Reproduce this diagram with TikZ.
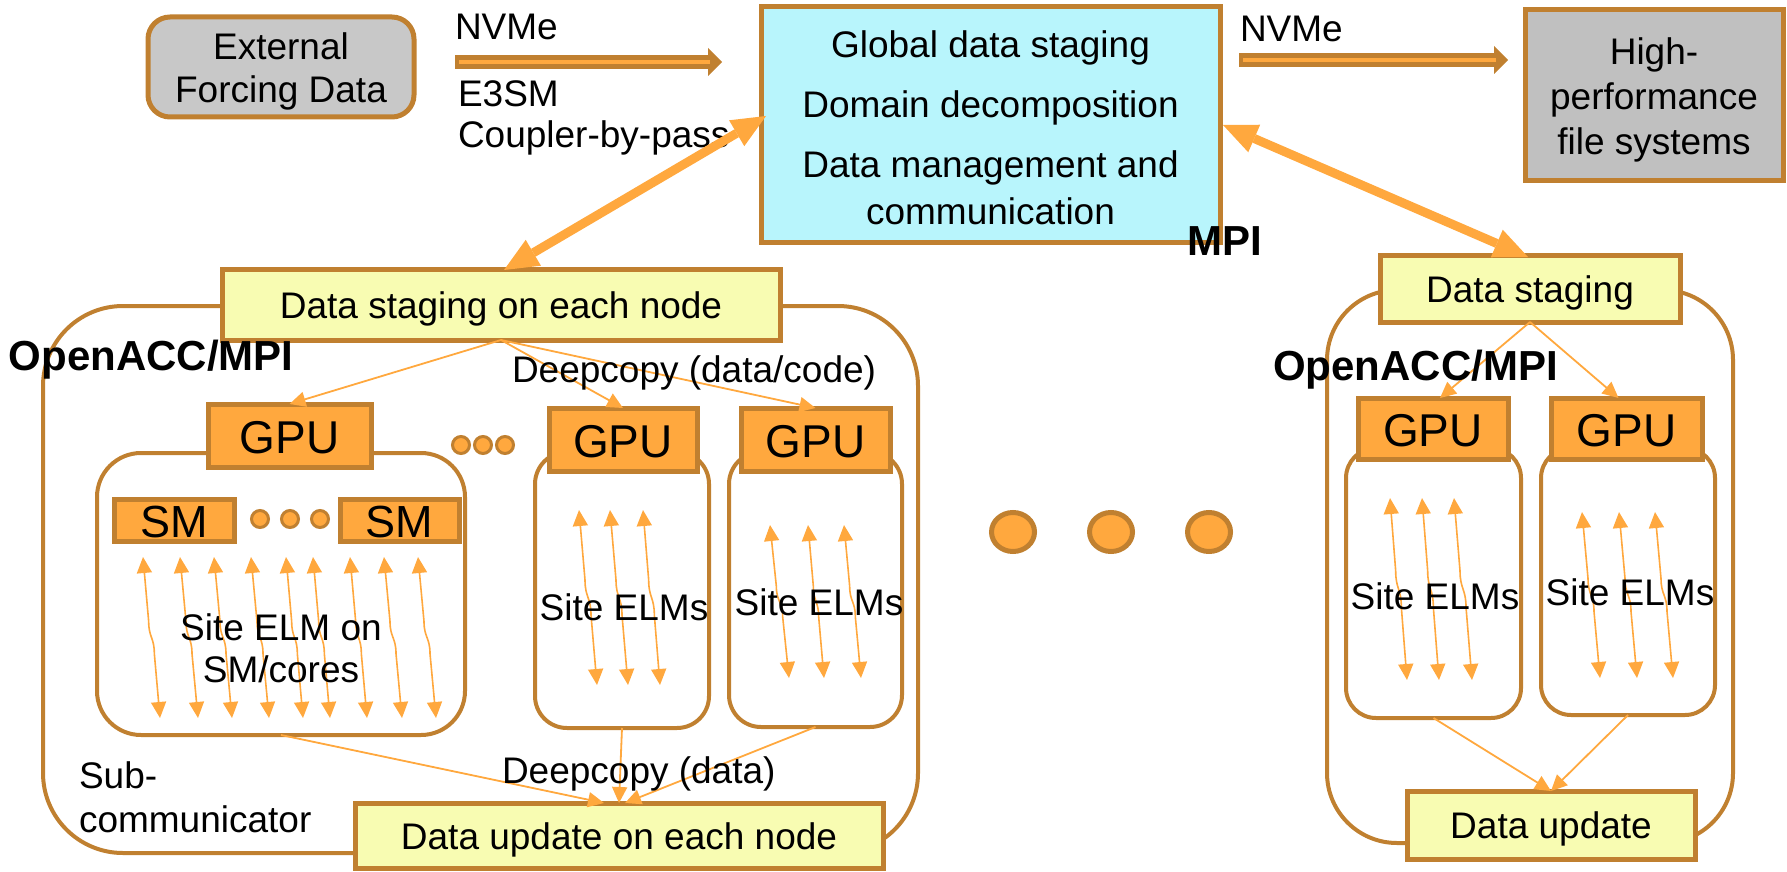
\documentclass[tikz,border=0pt]{standalone}
\usepackage{fontspec}
\setmainfont{Liberation Sans}
\usetikzlibrary{arrows.meta,fit,calc,shapes.geometric}
\definecolor{brn}{RGB}{192,128,48}
\definecolor{org}{RGB}{255,168,62}
\definecolor{ylw}{RGB}{248,252,178}
\definecolor{cyn}{RGB}{184,245,252}
\definecolor{gryA}{RGB}{200,200,200}
\definecolor{gryB}{RGB}{192,192,192}
\newcommand\fmain{\fontsize{18.5}{22}\selectfont}
\newcommand\fgpu{\fontsize{23}{26}\selectfont}
\newcommand\fbigb{\bfseries\fontsize{21}{24}\selectfont}
\newcommand\wavy[4]{%
  \pgfmathsetmacro\wva{#1+(#3-#1)/3}%
  \pgfmathsetmacro\wvb{#1+2*(#3-#1)/3}%
  \pgfmathsetmacro\wvm{(#2+#4)/2}%
  \pgfmathsetmacro\wvp{\wvm-(#4-#2)*0.1}%
  \pgfmathsetmacro\wvq{\wvm+(#4-#2)*0.1}%
  \draw[tab] (#1,#2) -- (\wva,\wvp) .. controls (\wva,\wvm) and (\wvb,\wvm) .. (\wvb,\wvq) -- (#3,#4);}
\begin{document}
\begin{tikzpicture}[x=0.5pt,y=-0.5pt,
  every node/.style={inner sep=0pt, outer sep=0pt},
  bx/.style={draw=brn, line width=2.5pt, inner sep=0pt},
  rr/.style={draw=brn, line width=2pt, inner sep=0pt, rounded corners=#1},
  txt/.style={label={[font=\fmain, align=center, yshift=-2pt]center:#1}},
  thinline/.style={draw=org, line width=0.9pt},
  ta/.style={thinline, -{Triangle[length=8pt,width=7.5pt]}},
  tab/.style={draw=org, line width=0.8pt, {Triangle[length=8pt,width=7.5pt]}-{Triangle[length=8pt,width=7.5pt]}},
  thick2/.style={draw=org, line width=4.5pt, {Triangle[length=17pt,width=15pt,line width=0pt]}-{Triangle[length=17pt,width=15pt,line width=0pt]}},
  nvarrow/.style={draw=brn, line width=7pt, -{Triangle[length=7pt,width=14pt,line width=0pt]}},
  gpu/.style={bx, fill=org, label={[font=\fgpu, yshift=-1pt]center:GPU}},
  smbox/.style={bx, fill=org, label={[font=\fontsize{22.5}{25}\selectfont, yshift=-1pt]center:SM}},
  sdot/.style={circle, draw=brn, fill=org, line width=1.5pt, minimum size=8.5pt},
  bdot/.style={ellipse, draw=brn, fill=org, line width=2.5pt, minimum width=21.5pt, minimum height=19.5pt},
  lbl/.style={font=\fmain, anchor=base west},
  lblc/.style={font=\fmain, anchor=base},
  bold/.style={font=\fbigb, anchor=base west}
]
\useasboundingbox (0,0) rectangle (1787,872);

% ---------- top row ----------
\node[bx, fill=gryA, rounded corners=11pt, fit={(148,17) (414,117)},
  label={[font=\fontsize{18.5}{21.5}\selectfont, align=center, yshift=-2pt]center:External\\Forcing Data}] (ext) {};
\node[bx, fill=cyn, fit={(761,7) (1220,242)},
  label={[font=\fontsize{18.5}{23.5}\selectfont, align=center, yshift=-1.5pt]center:Global data staging\\[6.5pt]Domain decomposition\\[6.5pt]Data management and\\communication}] (ctr) {};
\node[bx, fill=gryB, fit={(1525,10) (1783,180)},
  label={[font=\fontsize{18.5}{22.5}\selectfont, align=center, yshift=-2.5pt]center:High-\\performance\\file systems}] (hpf) {};

\coordinate (nv1s) at (455,62);
\coordinate (nv1e) at (722,62);
\coordinate (nv2s) at (1239,60);
\coordinate (nv2e) at (1508,60);
\draw[nvarrow] (nv1s) -- (nv1e);
\draw[org, line width=2pt] ($(nv1s)+(4,0)$) -- ($(nv1e)+(-12,0)$);
\draw[nvarrow] (nv2s) -- (nv2e);
\draw[org, line width=2pt] ($(nv2s)+(4,0)$) -- ($(nv2e)+(-12,0)$);

\node[lbl] (nvA) at (455,40) {NVMe};
\node[lbl] (e3) at (458,106) {E3SM};
\node[lbl] (cbp) at (458,148) {Coupler-by-pass};
\node[lbl] (nvB) at (1240,42) {NVMe};
\node[bold] (mpi) at (1187,255) {MPI};

% ---------- left compute node ----------
\node[rr=40pt, fit={(43,306) (918,853)}] (nodeL) {};
\node[rr=22pt, fit={(97,453) (465,735)}] (innA) {};
\node[rr=16pt, fit={(535,452) (709,728)}] (innB) {};
\node[rr=16pt, fit={(729,452) (902,727)}] (innC) {};
\node[bx, fill=ylw, fit={(222,269) (780,340)}, txt={Data staging on each node}] (stgL) {};
\node[bx, fill=ylw, fit={(355,803) (883,868)}, txt={Data update on each node}] (updL) {};
\node[gpu, fit={(208,404) (371,467)}] (gpuA) {};
\node[gpu, fit={(549,408) (697,471)}] (gpuB) {};
\node[gpu, fit={(741,408) (890,471)}] (gpuC) {};
\node[smbox, fit={(114,499) (234,541)}] (smA) {};
\node[smbox, fit={(340,499) (459,541)}] (smB) {};
\node[sdot] (g1) at (461,445) {};
\node[sdot] (g2) at (483,445) {};
\node[sdot] (g3) at (505,445) {};
\node[sdot] (s1) at (260,519) {};
\node[sdot] (s2) at (290,519) {};
\node[sdot] (s3) at (320,519) {};

\draw[ta] (stgL.south) -- (gpuA.north);
\draw[ta] (stgL.south) -- (gpuB.north);
\draw[ta] (stgL.south) -- (gpuC.north);
\draw[ta] (innA.south) -- ($(updL.north)+(-15,0)$);
\draw[ta] (innB.south) -- ($(updL.north)+(0,0)$);
\draw[ta] (innC.south) -- ($(updL.north)+(6,0)$);

\foreach \a/\b in {143/160,180/198,214/232,251/269,286/303,313/330,350/367,384/402,418/436}
  {\wavy{\a}{557}{\b}{718}}
\foreach \a/\b in {579/597,610/628,643/660}
  {\wavy{\a}{510}{\b}{685}}
\foreach \a/\b in {770/789,808/824,844/861}
  {\wavy{\a}{525}{\b}{678}}

\node[bold] (accL) at (9,370) {OpenACC/MPI};
\node[lbl] (dcA) at (512,382) {Deepcopy (data/code)};
\node[lbl] (dcB) at (502,783) {Deepcopy (data)};
\node[font=\fmain, align=left, anchor=north west] (subc) at (79,762) {Sub-\\communicator};
\node[font=\fontsize{18.5}{21}\selectfont, align=center] (selA) at (281,648) {Site ELM on\\SM/cores};
\node[lblc] (selB) at (624,620) {Site ELMs};
\node[lblc] (selC) at (819,615) {Site ELMs};

% ---------- ellipsis between nodes ----------
\node[bdot] (d1) at (1013,532) {};
\node[bdot] (d2) at (1111,532) {};
\node[bdot] (d3) at (1209,532) {};

% ---------- right compute node ----------
\node[rr=35pt, fit={(1327,290) (1733,843)}] (nodeR) {};
\node[rr=15pt, fit={(1346,448) (1521,718)}] (innR1) {};
\node[rr=15pt, fit={(1541,448) (1715,715)}] (innR2) {};
\node[bx, fill=ylw, fit={(1380,255) (1680,322)}, txt={Data staging}] (stgR) {};
\node[bx, fill=ylw, fit={(1407,791) (1695,859)}, txt={Data update}] (updR) {};
\node[gpu, fit={(1358,398) (1508,459)}] (gpuR1) {};
\node[gpu, fit={(1551,398) (1702,459)}] (gpuR2) {};

\draw[ta] (stgR.south) -- ($(gpuR1.north)+(7,0)$);
\draw[ta] (stgR.south) -- ($(gpuR2.north)+(-8,0)$);
\draw[ta] (innR1.south) -- (updR.north);
\draw[ta] (innR2.south) -- (updR.north);

\foreach \a/\b in {1390/1407,1422/1439,1454/1472}
  {\wavy{\a}{498}{\b}{680}}
\foreach \a/\b in {1582/1600,1619/1637,1655/1673}
  {\wavy{\a}{512}{\b}{678}}

\node[bold] (accR) at (1273,380) {OpenACC/MPI};
\node[lblc] (selR1) at (1435,609) {Site ELMs};
\node[lblc] (selR2) at (1630,605) {Site ELMs};

% ---------- MPI double arrows ----------
\coordinate (mL1) at (766,116);
\coordinate (mL2) at (504,270);
\coordinate (mR1) at (1223,125);
\coordinate (mR2) at (1528,257);
\draw[thick2] (mL1) -- (mL2);
\draw[thick2] (mR1) -- (mR2);
\end{tikzpicture}
\end{document}
